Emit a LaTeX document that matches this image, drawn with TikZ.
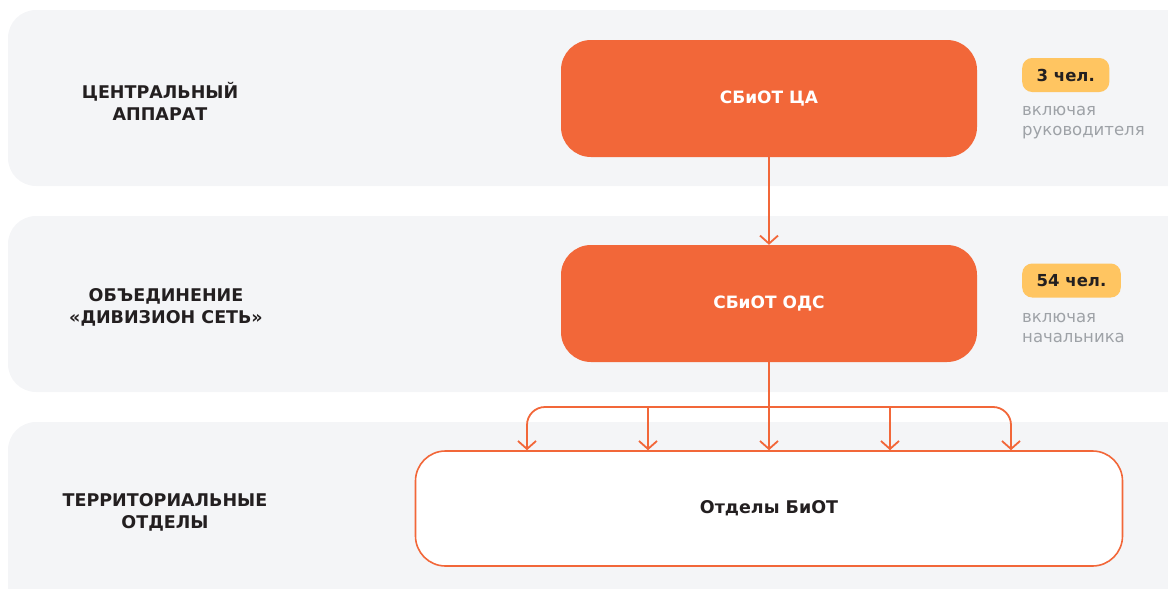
\documentclass[tikz,border=0pt]{standalone}
\usepackage{fontspec}
\setmainfont{DejaVu Sans}
\usepackage{tikz}
\usetikzlibrary{positioning, calc, arrows.meta}

\definecolor{bandgray}{HTML}{F4F5F7}
\definecolor{biotorange}{HTML}{F26739}
\definecolor{badgeyellow}{HTML}{FFC561}
\definecolor{notegray}{HTML}{9EA2A7}
\definecolor{darktext}{HTML}{231F20}

\tikzset{
    band/.style={fill=bandgray, rounded corners=28pt},
    level/.style={text=darktext, font=\bfseries\fontsize{17.5}{22}\selectfont, align=center},
    mainbox/.style={fill=biotorange, rounded corners=30pt, minimum width=416pt, minimum height=117pt,
        text=white, font=\bfseries\fontsize{17}{20}\selectfont},
    deptbox/.style={draw=biotorange, line width=1.6pt, fill=white, rounded corners=30pt,
        minimum width=707pt, minimum height=115pt, text=darktext, font=\bfseries\fontsize{17.5}{20}\selectfont},
    badge/.style={fill=badgeyellow, rounded corners=10pt, minimum height=34pt, inner xsep=14.5pt,
        text=darktext, font=\bfseries\fontsize{16.5}{20}\selectfont},
    note/.style={text=notegray, font=\fontsize{16.5}{20}\selectfont, align=left, anchor=north west, inner sep=0pt},
    arr/.style={draw=biotorange, line width=1.8pt, -{Straight Barb[length=8pt,width=18pt]}}
}

\begin{document}
\begin{tikzpicture}[x=1pt, y=-1pt]
        \useasboundingbox (0,0) rectangle (1168,589);

        % Background bands
        \fill[band] (8,10) rectangle (1200,186);
        \fill[band] (8,216) rectangle (1200,392);
        \fill[band] (8,422) rectangle (1200,620);

        % Level labels
        \node[level] (lvlca) at (160,101) {ЦЕНТРАЛЬНЫЙ\\АППАРАТ};
        \node[level] (lvlods) at (166,307) {ОБЪЕДИНЕНИЕ\\«ДИВИЗИОН СЕТЬ»};
        \node[level] (lvlto) at (165,512) {ТЕРРИТОРИАЛЬНЫЕ\\ОТДЕЛЫ};

        % Units
        \node[mainbox] (ca) at (769,98.5) {СБиОТ ЦА};
        \node[mainbox] (ods) at (769,303.5) {СБиОТ ОДС};
        \node[deptbox] (otd) at (769,508.5) {Отделы БиОТ};

        % Headcount badges
        \node[badge, anchor=west] (numca) at (1022,75) {3 чел.};
        \node[note] (noteca) at (1022,106) {включая\\руководителя};
        \node[badge, anchor=west] (numods) at (1022,280.5) {54 чел.};
        \node[note] (noteods) at (1022,313) {включая\\начальника};

        % Connectors
        \draw[arr] (ca) -- (ods);
        \coordinate (split) at (769,407);
        \draw[arr] (ods) -- (otd);
        \draw[arr, rounded corners=18pt] (split) -| ($(otd.north)+(-242,0)$);
        \draw[arr, rounded corners=18pt] (split) -| ($(otd.north)+(242,0)$);
        \draw[arr] ($(split)+(-121,0)$) -- ($(otd.north)+(-121,0)$);
        \draw[arr] ($(split)+(121,0)$) -- ($(otd.north)+(121,0)$);
\end{tikzpicture}
\end{document}
